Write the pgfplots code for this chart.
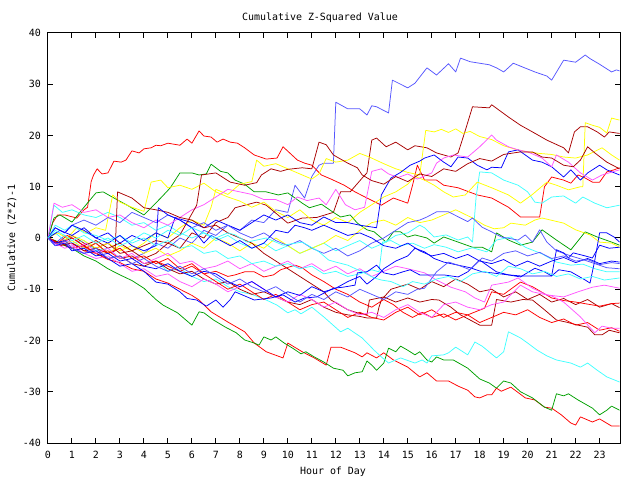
\documentclass[border=0pt]{standalone}
\usepackage{fontspec}
\setmonofont{DejaVu Sans Mono}
\usepackage{pgfplots}
\pgfplotsset{compat=1.18}
\definecolor{gred}{HTML}{FF0000}
\definecolor{gdred}{HTML}{A80000}
\definecolor{ggreen}{HTML}{00A000}
\definecolor{gblue}{HTML}{0000FF}
\definecolor{glblue}{HTML}{5555FF}
\definecolor{gcyan}{HTML}{40FFFF}
\definecolor{gyellow}{HTML}{FFFF00}
\definecolor{gmag}{HTML}{FF55FF}
\begin{document}
\begin{tikzpicture}
\useasboundingbox (-48bp,-37bp) rectangle (592bp,443bp);
\begin{axis}[at={(0,0)}, anchor=south west, scale only axis,
  width=572bp, height=410bp,
  xmin=0, xmax=23.85, ymin=-40, ymax=40,
  xtick={0,...,23}, ytick={-40,-30,...,40},
  tick align=inside, major tick length=5bp, tick pos=both,
  axis line style={line width=1bp}, tick style={line width=1bp, black},
  ticklabel style={font=\fontsize{10}{12}\selectfont\ttfamily},
  /pgf/number format/assume math mode=true,
  xticklabel style={yshift=-5bp},
  yticklabel style={xshift=-3.5bp},
  no markers,
  every axis plot/.append style={line width=0.75bp, line join=round},
]
% light blue top
\addplot[glblue] coordinates {(0,0)(0.3,-1)(0.7,0.5)(1,-1)(1.5,-2)(2,-1)(2.5,-3)(3,-2)(3.5,-4)(4,-3)(4.5,-1)(5,-2)(5.5,0)(6,-1)(6.5,1.5)(7,0.5)(7.5,2.5)(8,1.5)(8.5,3.5)(9,3)(9.5,5.5)(10,5)(10.3,10.3)(10.7,7.8)(11,12)(11.3,14.2)(11.5,14.6)(11.9,14.6)(12,26.5)(12.5,25.2)(13,25.2)(13.3,24)(13.5,25.8)(13.7,25.6)(14.2,24.4)(14.36,30.8)(15,29.3)(15.3,30.2)(15.8,33.2)(16.2,31.8)(16.7,34)(17,32.4)(17.2,35.1)(17.6,34.4)(18,34.1)(18.4,33.8)(18.7,33.2)(19,32.4)(19.4,34.1)(20.3,32.4)(20.8,31.6)(21,30.8)(21.5,34.7)(22,34.3)(22.4,35.7)(22.6,35)(23,33.9)(23.5,32.4)(23.7,32.8)(23.83,32.6)};
% dark red A
\addplot[gdred] coordinates {(0,0)(0.5,-1)(1,0.5)(1.5,-1)(2,-2)(2.5,-1)(3,-3)(3.5,-2.5)(4,-4)(4.5,-3)(5,-1)(5.5,-2)(6,1)(6.5,0)(7,3)(7.5,4)(7.8,5.9)(8.7,7)(9.1,6.4)(10,2.9)(10.6,3.9)(11.2,4)(11.9,5)(12.2,9)(12.6,9)(13.1,11.7)(13.3,12.7)(13.5,19.1)(13.7,19.5)(14.1,17.8)(14.5,18.7)(15,17.2)(15.3,18)(15.8,17.6)(16.2,16.6)(16.8,15.8)(17.1,16.6)(17.4,21)(17.7,25.6)(18.4,25.4)(18.5,26)(19.2,23.6)(19.7,22)(20.2,20.7)(20.8,19.1)(21.5,17.6)(21.7,16.6)(21.95,20.7)(22.2,21.7)(22.5,21.7)(22.9,20.7)(23.2,19.7)(23.4,20.7)(23.83,20.4)};
% red early riser
\addplot[gred] coordinates {(0,0)(0.2,3)(0.4,4.5)(0.7,4.5)(1.2,3.9)(1.5,5.5)(1.65,6)(1.8,11)(1.9,12.3)(2.05,13.5)(2.25,12.5)(2.5,12.7)(2.75,15)(3.05,14.8)(3.25,15.2)(3.5,17)(3.8,16.6)(4,17.4)(4.3,17.6)(4.5,18.1)(4.7,18)(5,18.5)(5.5,18.1)(5.8,19.3)(6,18.5)(6.3,20.9)(6.5,19.9)(6.8,19.7)(7.05,18.7)(7.3,19.3)(7.6,18.7)(7.9,18.5)(8.2,17.6)(8.6,16.2)(9.1,15.4)(9.55,15.6)(9.8,17.8)(10.4,15.2)(10.7,14.6)(11,14.2)(11.4,12.3)(11.8,11.5)(12.35,10.3)(12.8,9)(13.3,7.8)(13.9,6.4)(14.4,7.8)(15,6.8)(15.2,10.3)(15.4,14.2)(15.7,11.3)(16.2,11.3)(16.5,10.3)(17.1,9.8)(17.9,8.4)(18.5,7.8)(19.2,6)(19.7,4.1)(20.5,4.1)(20.7,10)(21,11.9)(21.5,11.3)(21.8,10.7)(22.1,12.3)(22.4,11.7)(22.7,10.9)(23,10.9)(23.3,12.9)(23.6,13.3)(23.83,13.7)};
% red bottom
\addplot[gred] coordinates {(0,0)(0.3,-0.8)(0.7,-1.2)(1,-1)(1.5,-2.5)(2,-3)(2.5,-4.2)(3,-4.8)(3.5,-6)(4,-6.5)(4.5,-8)(5,-8.8)(5.5,-10)(6,-11.2)(6.3,-12.1)(6.8,-14.4)(7.5,-16.4)(8.2,-18.3)(8.6,-20.5)(9.1,-22.2)(9.8,-23.4)(10,-20.5)(10.6,-22.2)(11.1,-23.4)(11.6,-24.8)(11.8,-21.3)(12.2,-21.3)(12.8,-22.4)(13.1,-23.2)(13.3,-22.4)(13.7,-23.4)(14,-22.4)(14.4,-23.8)(15,-25.2)(15.5,-27.1)(15.8,-26.3)(16.2,-27.9)(16.7,-27.9)(17.1,-28.9)(17.5,-29.7)(17.8,-31)(18,-31.2)(18.3,-30.6)(18.5,-30.6)(18.7,-29.3)(18.9,-29.9)(19.3,-29.1)(19.9,-31.2)(20.3,-31.6)(20.7,-33)(21,-33.2)(21.4,-34.5)(21.8,-36.1)(22,-36.5)(22.2,-34.9)(22.7,-35.9)(23,-35.3)(23.5,-36.7)(23.83,-36.7)};
% green bottom
\addplot[ggreen] coordinates {(0,0)(0.3,-0.5)(0.7,-1.5)(1,-2)(1.5,-3.5)(2,-4.5)(2.5,-6)(3,-7.2)(3.5,-8.3)(4,-9.8)(4.5,-12)(4.8,-13.1)(5.4,-14.6)(6,-17)(6.3,-14.4)(6.5,-14.6)(6.9,-16)(7.4,-17.4)(7.85,-18.5)(8.2,-19.9)(8.6,-20.5)(8.8,-20.9)(9,-19.3)(9.3,-19.9)(9.5,-19.3)(9.85,-20.5)(10.2,-21.5)(10.55,-22.6)(10.75,-22.2)(11.1,-23.2)(11.5,-24.2)(11.9,-25.4)(12.3,-25.8)(12.5,-26.9)(12.8,-26.3)(13.1,-26.1)(13.3,-24)(13.5,-24.8)(13.7,-25.8)(14,-24.4)(14.2,-21.5)(14.5,-22.2)(14.7,-21.1)(15,-21.9)(15.3,-22.8)(15.5,-22.2)(15.8,-23.8)(16,-24.2)(16.2,-23.2)(16.5,-23.8)(16.9,-23.8)(17.5,-25.4)(18,-27.5)(18.4,-28.3)(18.7,-29.3)(19,-27.9)(19.3,-28.3)(19.7,-30)(20.2,-31.2)(20.7,-33)(21,-33.6)(21.2,-30.4)(21.5,-30.8)(21.7,-30.4)(22.1,-31.6)(22.4,-32.4)(22.7,-33.2)(23,-34.5)(23.3,-33.6)(23.5,-32.8)(23.83,-33.6)};
% cyan bottom
\addplot[gcyan] coordinates {(0,0)(0.3,1)(0.7,-0.5)(1,-1)(1.5,-0.5)(2,-2.5)(2.5,-2)(3,-4)(3.5,-3.5)(4,-5)(4.5,-4.5)(5,-6.5)(5.5,-6)(6,-7.5)(6.5,-8.5)(7,-8)(7.5,-9.5)(8,-10.5)(8.5,-11)(9.1,-12.1)(9.55,-13.1)(10,-14.6)(10.3,-14)(10.55,-14.8)(11,-13.5)(11.5,-15.4)(12.2,-18.3)(12.5,-17.6)(13.1,-19.5)(13.6,-21.9)(13.9,-23.2)(14.2,-24.4)(14.7,-23.4)(15.3,-24.4)(15.6,-23.8)(15.8,-24.4)(16,-23)(16.5,-22.8)(16.7,-22.4)(17,-21.3)(17.5,-22.8)(17.8,-20.3)(18.1,-21.1)(18.7,-23.4)(19,-22.2)(19.2,-18.3)(19.7,-19.5)(20,-20.5)(20.4,-21.9)(20.8,-23)(21.2,-23.8)(21.8,-24.4)(22.2,-25.2)(22.5,-24.4)(22.9,-25.8)(23.3,-27.1)(23.83,-28.1)};
% green upper
\addplot[ggreen] coordinates {(0,0)(0.25,3.9)(0.5,4.5)(1,3.1)(1.5,6)(2,8.8)(2.3,9)(2.75,7.8)(3.3,6.4)(4,4.5)(4.3,5.9)(4.7,7.8)(5.1,9.8)(5.5,12.7)(6,12.7)(6.3,12.3)(6.6,12.5)(6.8,14.4)(7.2,13)(7.5,12.7)(7.8,11.3)(8.2,10.5)(8.6,9)(9.1,9)(9.6,8.4)(10,8.8)(10.6,6.8)(10.9,5.9)(11.4,6.6)(11.9,5)(12.2,4.1)(12.6,4.5)(12.9,2.9)(13.3,1.6)(13.6,1.2)(14.1,-0.8)(14.4,1.2)(14.7,1.2)(15,0.2)(15.3,0.6)(15.8,0)(16.1,-1)(16.5,0.2)(17.1,-0.8)(17.7,-1.8)(18.1,-1.8)(18.5,-2.7)(18.7,1)(19.2,-0.4)(19.7,-1.4)(20.2,-0.8)(20.6,1.6)(21.2,-0.4)(21.8,-2.3)(22.4,1.2)(22.9,0.2)(23.5,-0.8)(23.83,-1.4)};
% cyan high
\addplot[gcyan] coordinates {(0,0)(0.25,6.4)(0.6,5)(1,5.5)(1.5,4.5)(2,4)(2.5,5)(3,4)(3.5,2.5)(4,3)(4.5,1.5)(5,2.5)(5.5,1)(6,0)(6.5,1)(7,-0.5)(7.5,0.5)(8,-1)(8.5,-2)(9,-1)(9.5,-2.5)(10,-1.5)(10.5,-3)(11,-2)(11.5,-1)(12,-2.5)(12.5,-1.5)(13,-0.5)(13.5,-2)(14,-1)(14.5,0.5)(15,1)(15.5,2.5)(15.7,2)(16.1,0.2)(16.6,0.6)(17.1,-0.4)(17.5,0.2)(17.7,-0.8)(17.85,8)(18,12.9)(18.5,12.7)(19,11.3)(19.6,10.3)(20,9)(20.3,7)(20.6,6.8)(21,8)(21.5,8.2)(22,6.8)(22.3,8)(22.8,6.8)(23.3,5.9)(23.83,6.4)};
% yellow high
\addplot[gyellow] coordinates {(0,0)(0.5,-1.5)(1,-0.5)(1.5,-2)(2,-1)(2.5,-3)(3,-1.5)(3.5,-2.5)(4,-1)(4.5,1)(5,0)(5.5,2)(6,3.5)(6.5,2.5)(6.8,6)(7,9.5)(7.5,8.5)(8,10.5)(8.5,11)(8.7,15.2)(9,14)(9.5,14.5)(10,13.5)(10.5,12.5)(11,11.5)(11.3,12.5)(11.6,15.5)(12,14.8)(12.5,15.2)(13,16.5)(13.4,15.8)(14,14.5)(14.5,13.5)(15,12.8)(15.5,12.3)(15.75,21)(16.1,20.7)(16.4,21.2)(16.7,20.6)(17,21.3)(17.3,20.4)(17.6,20.8)(18,19.8)(18.5,19.2)(19,18)(19.5,17.3)(20,16.8)(20.5,16.5)(21,16.3)(21.5,15.8)(22,15.6)(22.5,16.2)(23.1,17.6)(23.5,16.2)(23.83,15.2)};
% yellow late jump
\addplot[gyellow] coordinates {(0,0)(0.4,1)(0.8,0)(1.2,2)(1.6,1)(2,2)(2.4,1.5)(2.7,8.4)(3,7)(3.5,6)(4,5.2)(4.3,10.9)(4.7,11.3)(5,9.8)(5.5,10.3)(6,9.5)(6.5,10.7)(7,9)(7.5,8)(8,7.2)(8.5,6)(9,7)(9.5,5.2)(10,4)(10.5,5.5)(11,3.5)(11.5,2.5)(12,4)(12.5,3)(13,5)(13.5,6.5)(14,8)(14.5,9)(15,10.5)(15.3,12)(15.7,11.3)(16.1,10.3)(16.5,9)(16.9,8)(17.4,8.4)(17.9,10.9)(18.5,9.8)(19.2,8.4)(19.7,6.8)(20.2,8.5)(20.8,10.9)(21.2,10.3)(21.7,9.4)(22.2,10)(22.3,10)(22.4,22.5)(22.7,22)(23,21.6)(23.3,20.5)(23.5,23.4)(23.83,23)};
% yellow mid
\addplot[gyellow] coordinates {(0,0)(0.5,-1)(1,0.5)(1.5,-0.5)(2,-2)(2.5,-1)(3,-2.5)(3.5,-1.5)(4,-3)(4.5,-2)(5,-3.5)(5.5,-2.5)(6,-1)(6.5,-2)(7,0)(7.5,-1)(8,-2.5)(8.5,-1)(9,-2)(9.5,0)(10,-1.5)(10.5,-3)(11,-2)(11.5,-1)(12,0.5)(12.5,-0.5)(13,1.5)(13.5,3)(14,3.5)(14.5,2.5)(15,4)(15.5,3)(16,3.5)(16.5,4.5)(17,5.5)(17.7,3.9)(18.2,2.5)(18.6,1.8)(19,2)(19.3,2.9)(19.9,2.5)(20.3,3.5)(20.6,3.9)(21.5,2.9)(22,1.6)(22.6,0.6)(23,-0.8)(23.5,-1)(23.83,-1.8)};
% blue upper
\addplot[gblue] coordinates {(0,0)(0.5,1.5)(1,0.5)(1.5,2)(2,0)(2.5,1)(3,-1)(3.5,0.5)(4,-0.5)(4.5,1)(5,0)(5.3,4)(6,3)(6.5,2)(7,3.5)(7.5,2.5)(8,1.5)(8.5,3)(9,4.5)(9.5,3.5)(10,4.5)(10.5,3)(11,2.5)(11.5,4.1)(12,3)(12.5,3)(13,2.5)(13.7,2)(13.9,8.4)(14.3,11.7)(14.7,12.8)(15.1,14.2)(15.5,15)(15.7,15.6)(16.1,16.2)(16.5,14.8)(16.8,13.9)(17.1,15.8)(17.5,15.6)(17.9,14.2)(18.3,13.3)(18.5,13.8)(18.9,13.7)(19.2,16.8)(19.6,17.2)(19.9,16.2)(20.2,15.2)(20.6,14.8)(21,13.9)(21.5,11.9)(21.8,13.3)(22.2,11.3)(22.5,12.7)(23,14.2)(23.3,13.3)(23.83,12.3)};
% magenta upper
\addplot[gmag] coordinates {(0,0)(0.25,6.8)(0.6,6)(1,6.5)(1.5,5)(2,5.5)(2.5,4)(3,4.5)(3.5,3)(4,2)(4.5,3.5)(5,2.5)(5.5,4)(6,5.5)(6.5,6.5)(7,8)(7.5,9.5)(8,9)(8.5,8.5)(9,7.5)(9.5,7.5)(10,6.5)(10.4,8)(10.8,7.3)(11.3,7.8)(11.6,6.5)(12,9.5)(12.4,6.5)(12.8,5.5)(13.2,6)(13.5,13)(13.9,13.5)(14.2,12.5)(14.6,11.8)(15,12.5)(15.4,11.5)(15.8,12.3)(16,12.7)(16.2,14.6)(16.5,15.6)(16.9,16.2)(17.5,15.8)(18,17.8)(18.5,20.1)(18.7,19.1)(19.2,17.8)(19.6,17.2)(20,16.8)(20.6,15.6)(21,13.9)(21.2,16.2)(21.7,14.8)(22.2,12.7)(22.7,11.3)(23.1,12.3)(23.83,13.3)};
% dark red C
\addplot[gdred] coordinates {(0,0)(0.5,-1)(1,0)(1.5,-1.5)(2,-0.5)(2.5,-2)(3,-1)(3.5,-2.5)(4,-1.5)(4.5,-0.5)(5,-1)(5.5,0.6)(6.2,6.4)(6.4,12.3)(7,12.7)(7.6,10.9)(8.2,10.3)(8.7,10.8)(8.9,12.3)(9.3,13.5)(9.7,13)(10,13.4)(10.6,13.7)(11,13.5)(11.3,18.7)(11.6,18.2)(11.9,16.2)(12.5,14.6)(12.9,13.7)(13.1,12.3)(13.5,11.2)(14,10.5)(14.5,12)(15,11)(15.5,12.5)(16,12)(16.5,13.5)(17,13)(17.5,14.5)(18,15.5)(18.5,15)(19,16.3)(19.7,16.8)(20.2,16.8)(20.6,15.8)(21,15.6)(21.5,14.2)(21.9,13.9)(22.2,15.2)(22.5,17.8)(22.8,16.6)(23.3,14.8)(23.83,13.5)};
% dark red E
\addplot[gdred] coordinates {(0,0)(0.5,-1.5)(1,-1)(1.5,-2.5)(2,-2)(2.5,-3)(2.8,-2.5)(2.9,9)(3.5,7.8)(4,5.9)(4.5,5.5)(5,5)(5.5,4)(6,3.5)(6.5,2)(7,2.5)(7.5,1)(8,0)(8.5,-1)(9,-3)(9.5,-4.5)(10,-6)(10.5,-7.5)(11,-9)(11.5,-10.5)(11.8,-12.1)(12.5,-14)(12.9,-14.6)(13.3,-15)(13.4,-12.1)(14,-11.5)(14.5,-12.5)(15,-11.7)(15.5,-12.5)(16,-12)(16.3,-12.1)(16.8,-13.5)(17.2,-15)(18,-17)(18.5,-17)(18.7,-12)(19.3,-12.5)(19.8,-12)(20.2,-12.1)(20.7,-14)(21.2,-16)(21.6,-16.4)(22.1,-17)(22.5,-17.4)(22.8,-18.9)(23.1,-18.9)(23.4,-18)(23.83,-18.5)};
% dark red F
\addplot[gdred] coordinates {(0,0)(0.5,-1)(1,-2)(1.5,-1.5)(2,-3)(2.5,-4)(3,-3.5)(3.5,-5)(4,-5.5)(4.5,-4.5)(5,-6)(5.5,-7)(6,-6.5)(6.5,-8)(7,-9)(7.5,-8.5)(8,-10)(8.5,-11)(9,-10.5)(9.5,-11.5)(10,-12.5)(10.5,-13)(11,-12)(11.5,-13.5)(12,-14.5)(12.5,-15)(13,-15.3)(13.3,-15.6)(13.7,-15.6)(13.8,-13.5)(13.9,-12.1)(14.3,-10)(15,-9)(15.5,-10)(16,-8.5)(16.5,-9.5)(17,-8)(17.5,-9)(18,-10.5)(18.5,-10)(19,-11.5)(19.5,-10.5)(20,-12)(20.5,-11)(21,-12.5)(21.5,-11.8)(22,-13)(22.5,-12)(23,-13.5)(23.5,-12.8)(23.83,-13.6)};
% red lower-mid
\addplot[gred] coordinates {(0,0)(0.4,-1)(0.8,0.5)(1.2,-0.5)(1.6,-2)(2,-1)(2.5,-3)(3,-2)(3.5,-4)(4,-3.5)(4.5,-5)(5,-4)(5.5,-6)(6,-5)(6.5,-7)(7,-8.5)(7.5,-10)(8,-9)(8.5,-10.5)(9,-12)(9.5,-11)(10,-12.5)(10.5,-14)(11,-13)(11.5,-12.5)(12,-14)(12.5,-15.5)(13,-14.5)(13.5,-15.5)(14,-16)(14.5,-14.5)(15,-13.5)(15.5,-15)(16,-14)(16.5,-15.5)(17,-14.5)(17.5,-15)(18.2,-13.7)(18.5,-10.5)(19,-11)(19.7,-8.6)(20.2,-9.5)(21,-11.7)(21.5,-12.2)(22,-12.5)(23,-13.3)(23.5,-12.8)(23.83,-12.7)};
% red mid
\addplot[gred] coordinates {(0,0)(0.3,-1)(0.7,-0.5)(1,-2)(1.5,-1.5)(2,-3)(2.5,-2.5)(3,-4)(3.5,-3.5)(4,-5)(4.5,-4.5)(5,-5.5)(5.5,-6.5)(6,-5.5)(6.5,-7)(7,-6.5)(7.5,-7.5)(7.8,-7.2)(8.2,-6.6)(8.6,-6.6)(9,-7.6)(9.4,-7.2)(9.7,-6.2)(10.3,-5.3)(10.6,-5.8)(11,-7.2)(11.5,-8.5)(12,-10)(12.5,-11)(13,-12.5)(13.5,-13.5)(14,-12)(14.4,-13)(14.8,-14.5)(15.2,-15.5)(15.6,-14.5)(16,-15.5)(16.5,-14.8)(17,-16)(17.5,-15)(18,-16.5)(18.5,-15.5)(19,-14.5)(19.5,-15)(20,-14)(20.5,-15.5)(21,-16.5)(21.5,-15.8)(22,-17)(22.5,-16.5)(23,-18)(23.5,-17.5)(23.83,-18.2)};
% magenta mid
\addplot[gmag] coordinates {(0,0)(0.4,-1.5)(0.8,-0.5)(1.2,-2)(1.6,-1)(2,-3)(2.5,-2)(3,-4)(3.5,-3)(4,-5)(4.5,-4)(5,-3)(5.5,-5)(6,-4.5)(6.5,-6)(7,-5.5)(7.5,-4.5)(8,-6)(8.5,-5)(9,-6.5)(9.5,-5.5)(10,-4.5)(10.5,-6)(11,-5)(11.5,-6.5)(12,-5.5)(12.5,-7)(13,-6)(13.5,-7.5)(14,-6.5)(14.5,-5.5)(15,-6)(15.7,-6.8)(16.2,-8.2)(16.8,-9.6)(17.4,-10.5)(17.8,-11.7)(18.2,-12.5)(18.5,-9.2)(19.2,-8.6)(19.6,-7.8)(20.2,-9.8)(20.8,-11.1)(21.5,-11.5)(22.1,-10.5)(22.7,-9.6)(23.2,-9.2)(23.83,-9.8)};
% magenta low
\addplot[gmag] coordinates {(0,0)(0.3,-1)(0.7,-2)(1,-1.5)(1.5,-3)(2,-4)(2.5,-3.5)(3,-5)(3.5,-6.5)(4,-6)(4.5,-7.5)(5,-7)(5.5,-8.5)(6,-9.5)(6.5,-8)(7,-9)(7.5,-10.5)(8,-9.5)(8.5,-8.5)(9,-10)(9.5,-11.5)(10,-12.5)(10.5,-11)(11,-12)(11.5,-13.5)(12,-12.5)(12.5,-14)(13,-15)(13.5,-14.5)(14,-15.5)(14.5,-14)(15,-13)(15.5,-14.5)(16,-15.5)(16.5,-13)(17,-12.5)(17.5,-13.5)(18,-14)(18.5,-13)(19,-12.5)(19.7,-9.2)(20.2,-10.5)(21,-11.3)(21.5,-12.5)(22.2,-15.4)(22.8,-18.5)(23.1,-17.2)(23.5,-17.6)(23.83,-17.6)};
% cyan mid
\addplot[gcyan] coordinates {(0,0)(0.3,2.5)(0.7,1.5)(1,2.5)(1.5,1)(2,0.5)(2.5,-0.5)(3,0.5)(3.5,-1)(4,0)(4.5,-1.5)(5,-0.5)(5.5,-2)(6,-1.5)(6.5,-3)(7,-2.5)(7.5,-4)(8,-3.5)(8.5,-5)(9,-4.5)(9.5,-5.5)(10,-5)(10.5,-6)(11,-5.5)(11.5,-7)(12,-6.5)(12.5,-7.5)(13,-7)(13.5,-6.2)(13.8,-6.6)(13.95,-0.8)(14.3,-0.5)(14.7,-1.5)(15.2,-1)(15.7,-2)(16.1,-1.3)(16.6,-1.8)(17.1,-2.7)(17.7,-1.9)(18.3,-2.7)(18.7,-0.4)(19.3,0.2)(19.9,-1.8)(20.6,-3.1)(21.2,-4.7)(21.8,-5.3)(22.3,-5.1)(22.8,-6)(23.3,-6.6)(23.83,-6.6)};
% light blue 2
\addplot[glblue] coordinates {(0,0)(0.3,2)(0.7,1)(1,2.5)(1.5,3.5)(2,2.5)(2.5,4)(3,3)(3.5,5)(4,4)(4.5,3)(5,4.5)(5.5,3.5)(6,2)(6.5,3)(7,1.5)(7.5,2.5)(8,1)(8.5,0)(9,1)(9.5,-0.5)(10,-1.5)(10.5,-0.5)(11,-2)(11.5,-3)(12,-2)(12.5,-3.5)(13,-2.5)(13.5,-1)(14,0)(14.5,1.5)(15,3)(15.5,3.5)(15.8,4.1)(16.2,5.1)(16.7,5.1)(17.2,3.9)(17.5,3.2)(17.7,3.9)(18.1,2.1)(18.5,1.2)(18.9,0.2)(19.6,-0.4)(19.9,0.6)(20.2,-0.8)(20.5,1.6)(20.8,-0.8)(21.2,-2.5)(21.8,-3.5)(22.3,-4.2)(22.8,-5)(23.3,-5.8)(23.83,-6)};
% blue 2
\addplot[gblue] coordinates {(0,0)(0.3,-1.5)(0.7,-1)(1,-2.5)(1.5,-2)(2,-3.5)(2.5,-3)(3,-4.5)(3.5,-4)(4,-5.5)(4.5,-6)(5,-5)(5.5,-6.5)(6,-7.5)(6.5,-6.5)(7,-7)(7.5,-8.5)(8,-9.5)(8.5,-8.5)(9,-10)(9.5,-11.5)(10,-10.5)(10.5,-11.2)(11,-9.5)(11.5,-10.5)(12,-9.8)(12.5,-8.5)(13,-7.5)(13.3,-9)(13.7,-7.5)(14,-6)(14.5,-4.5)(15,-3.5)(15.3,-2)(15.7,-2.7)(16.1,-4)(16.5,-4.7)(17.1,-5.3)(17.6,-5.8)(18.1,-6.6)(18.5,-6.8)(19.2,-7.2)(19.7,-7.6)(20.3,-5.9)(20.7,-6.6)(21,-7.4)(21.3,-6.2)(21.8,-6.6)(22.4,-8.2)(22.6,-8.8)(22.8,-4.3)(23,1)(23.3,1)(23.6,0.2)(23.83,-0.8)};
% blue 3
\addplot[gblue] coordinates {(0,0)(0.3,-1)(0.7,-0.5)(1,-2)(1.5,-3)(2,-2.5)(2.5,-4)(3,-5.5)(3.5,-5)(4,-6.5)(4.5,-8.6)(5,-9)(5.5,-10.5)(5.8,-11.8)(6.2,-12.1)(6.6,-13.3)(7,-12.1)(7.3,-13.5)(7.6,-12)(7.8,-10.5)(8.2,-11.3)(8.6,-12.1)(9.3,-11.7)(9.8,-11.1)(10.3,-12.5)(10.7,-11.7)(11.2,-11.5)(11.9,-9.8)(12.3,-9.6)(12.8,-9.2)(12.9,-6.8)(13.3,-6.6)(13.7,-5.3)(14,-6.8)(14.4,-7.2)(14.8,-6.6)(15.1,-6.2)(15.5,-7.2)(16.1,-7.2)(16.5,-7.2)(17.1,-7.6)(17.5,-6.6)(18,-4.3)(18.3,-5.3)(18.7,-6.6)(19.2,-7.2)(19.7,-7.4)(21,-7.4)(21.2,-2.3)(21.5,-2.9)(21.7,-3.9)(21.9,-2.9)(22.4,-3.5)(22.7,-3.9)(23,-1.4)(23.4,-2)(23.83,-1.8)};
% blue 4
\addplot[gblue] coordinates {(0,0)(0.3,2)(0.7,1)(1,2.5)(1.5,1.5)(2,0)(2.5,-1)(3,0.5)(3.5,-1.5)(4,-2.5)(4.5,-1.5)(4.6,5.9)(5,4.5)(5.5,3.5)(6,2)(6.5,-1)(6.8,0.5)(7.2,-0.5)(7.6,-1.5)(8,-0.5)(8.5,-2)(9,-1)(9.5,1.5)(10,1)(10.3,2.5)(10.7,2)(11,1.5)(11.5,2.5)(12,1.5)(12.5,0.5)(13,1)(13.5,0)(14,-1.5)(14.5,-2)(15,-1)(15.5,-2.5)(16,-3.5)(16.5,-3)(17,-4)(17.5,-3.2)(18,-4.5)(18.5,-5)(19,-4.2)(19.5,-5.5)(20,-4.5)(20.5,-5.5)(21,-4.5)(21.5,-3.8)(22,-4.8)(22.5,-4)(23,-5)(23.5,-4.5)(23.83,-4.7)};
% light blue 3
\addplot[glblue] coordinates {(0,0)(0.3,-1.5)(0.7,-0.5)(1,-2)(1.5,-3)(2,-2)(2.5,-4)(3,-3.5)(3.5,-5)(4,-4)(4.5,-5.5)(5,-6.5)(5.5,-5.5)(6,-7)(6.5,-6)(7,-7.5)(7.5,-9)(8,-8)(8.5,-9.5)(9,-10.5)(9.5,-9.5)(10,-11)(10.5,-12.5)(11,-11)(11.5,-12)(12,-10.5)(12.5,-11.5)(13,-10)(13.5,-11)(14,-12)(14.5,-10.5)(15,-11)(15.4,-10)(15.7,-9.8)(16.2,-6.6)(16.7,-4.7)(17.1,-5.3)(17.6,-6.2)(18.1,-3.9)(18.5,-4.5)(19,-3)(19.5,-2.5)(20,-3.5)(20.5,-2.8)(21,-4)(21.5,-3.5)(22,-4.5)(22.5,-4.2)(23,-5.2)(23.5,-4.8)(23.83,-5)};
% cyan 4
\addplot[gcyan] coordinates {(0,0)(0.3,1.5)(0.7,0.5)(1,-0.5)(1.5,0.5)(2,-1)(2.5,0)(3,-1.5)(3.5,-0.5)(4,1)(4.5,0)(5,1.5)(5.5,0.5)(6,2)(6.5,1)(7,0)(7.5,1)(7.8,0.6)(8.3,-0.8)(9.1,0)(9.8,-1.4)(10.6,-0.8)(11.3,-2.7)(11.7,-4.3)(12,-4.7)(12.5,-5.3)(13.1,-6.6)(13.6,-7.8)(13.9,-8.2)(14.3,-8.5)(14.8,-9.5)(15.2,-8.5)(15.7,-9)(16.2,-8)(16.7,-7.5)(17.2,-8.5)(17.7,-7)(18.2,-6.5)(18.7,-7.5)(19.2,-5.5)(19.7,-6)(20.2,-7)(20.7,-6.5)(21.2,-7.5)(21.7,-7)(22.2,-8)(22.7,-7.5)(23.2,-8.2)(23.83,-7.8)};
\end{axis}
\node[font=\fontsize{10}{12}\selectfont\ttfamily] at (272bp,425bp) {Cumulative Z-Squared Value};
\node[font=\fontsize{10}{12}\selectfont\ttfamily] at (285bp,-29bp) {Hour of Day};
\node[font=\fontsize{10}{12}\selectfont\ttfamily, rotate=90] at (-36bp,205bp) {Cumulative (Z*Z)-1};
\end{tikzpicture}
\end{document}
